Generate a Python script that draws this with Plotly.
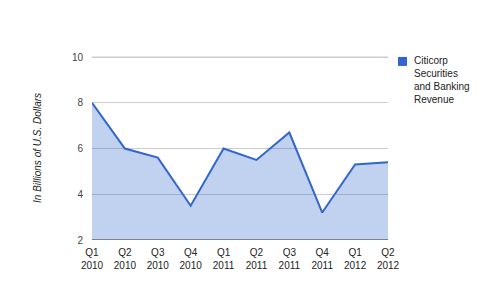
import plotly.graph_objects as go

quarters = ["Q1<br>2010", "Q2<br>2010", "Q3<br>2010", "Q4<br>2010", "Q1<br>2011",
            "Q2<br>2011", "Q3<br>2011", "Q4<br>2011", "Q1<br>2012", "Q2<br>2012"]
revenue = [8.0, 6.0, 5.6, 3.5, 6.0, 5.5, 6.7, 3.2, 5.3, 5.4]
series_name = "Citicorp<br>Securities<br>and Banking<br>Revenue"
y_ticks = [2, 4, 6, 8, 10]
y_title = "In Billions of U.S. Dollars"

x_idx = list(range(len(quarters)))
series_color = "#3366cc"

fig = go.Figure()
fig.add_trace(go.Scatter(
    x=x_idx, y=revenue, mode="lines", fill="tozeroy", name=series_name,
    line=dict(color=series_color, width=2),
    fillcolor="rgba(51,102,204,0.3)",
    showlegend=False, hoverinfo="skip",
))

font_family = "Liberation Sans, Arial, sans-serif"

fig.update_layout(
    width=480, height=297,
    margin=dict(l=92, r=92, t=56, b=57, autoexpand=False),
    paper_bgcolor="white", plot_bgcolor="white",
    font=dict(family=font_family, size=10, color="#444444"),
    showlegend=False,
    xaxis=dict(range=[0, len(quarters) - 1], tickvals=x_idx, ticktext=quarters,
               showgrid=False, zeroline=False, showline=False, ticks="",
               ticklabelstandoff=5,
               tickfont=dict(size=10, color="#222222")),
    yaxis=dict(range=[y_ticks[0], y_ticks[-1] + 0.045], tickvals=y_ticks, showgrid=True,
               gridcolor="#cccccc", gridwidth=1, zeroline=False, showline=False,
               ticks="", ticklabelstandoff=8,
               tickfont=dict(size=10, color="#444444")),
    annotations=[
        dict(text=y_title, textangle=-90, xref="paper", yref="paper",
             x=-0.186, y=0.5, xanchor="center", yanchor="middle",
             showarrow=False,
             font=dict(size=10, color="#222222", family=font_family, style="italic")),
        # legend text
        dict(text=series_name, xref="paper", yref="paper",
             x=1.081, y=1.015, xanchor="left", yanchor="top", align="left",
             showarrow=False,
             font=dict(size=10, color="#222222", family=font_family)),
    ],
    shapes=[
        # top gridline reinforcement
        dict(type="line", xref="paper", yref="y", x0=0, x1=1,
             y0=y_ticks[-1], y1=y_ticks[-1], layer="above",
             line=dict(color="#cccccc", width=1)),
        # baseline
        dict(type="line", xref="paper", yref="y", x0=0, x1=1,
             y0=y_ticks[0], y1=y_ticks[0],
             line=dict(color="#333333", width=1)),
        # legend swatch
        dict(type="rect", xref="paper", yref="paper",
             x0=1.0338, x1=1.0642, y0=0.946, y1=0.995,
             fillcolor=series_color, line=dict(width=0)),
    ],
)

fig.write_html("out.html")
